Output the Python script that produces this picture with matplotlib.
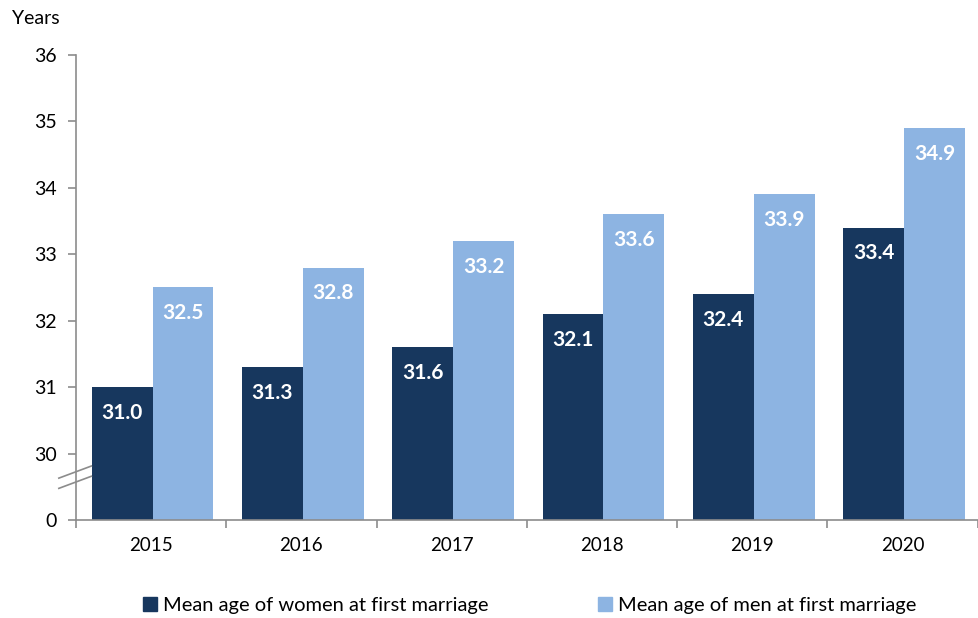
import numpy as np
import matplotlib.pyplot as plt
from matplotlib.patches import Patch

years = ['2015', '2016', '2017', '2018', '2019', '2020']
women = [31.0, 31.3, 31.6, 32.1, 32.4, 33.4]
men = [32.5, 32.8, 33.2, 33.6, 33.9, 34.9]
ytick_vals = [29, 30, 31, 32, 33, 34, 35, 36]
ytick_labels = ['0', '30', '31', '32', '33', '34', '35', '36']

dark = '#17375E'
light = '#8DB4E2'
grey = '#8C8C8C'

plt.rcParams['font.family'] = ['Lato', 'DejaVu Sans']

fig = plt.figure(figsize=(9.79, 6.18), dpi=100)
ax = fig.add_axes([0.0776, 0.1586, 0.921, 0.7524])

# axis is broken: everything below 30 is squeezed into one step labelled 0
base = 29
x = np.arange(len(years))
w = 0.405
b1 = ax.bar(x - w / 2 + 0.01, np.array(women) - base, w, bottom=base, color=dark)
b2 = ax.bar(x + w / 2 + 0.01, np.array(men) - base, w, bottom=base, color=light)

for bars, vals in ((b1, women), (b2, men)):
    for rect, v in zip(bars, vals):
        ax.annotate(f'{v:.1f}', (rect.get_x() + rect.get_width() / 2, v),
                    xytext=(0, -18.5), textcoords='offset points',
                    ha='center', va='center', color='white',
                    fontsize=15, fontweight='bold')

ax.set_xlim(-0.5, len(years) - 0.5)
ax.set_ylim(base, 36)
ax.set_yticks(ytick_vals)
ax.set_yticklabels(ytick_labels, fontsize=14)
ax.set_xticks(x)
ax.set_xticklabels(years, fontsize=13.5)
ax.set_xticks(np.arange(-0.5, len(years)), minor=True)
ax.tick_params(axis='x', which='major', length=0, pad=12)
ax.tick_params(axis='x', which='minor', length=6, color=grey, width=1.2)
ax.tick_params(axis='y', length=6, color=grey, width=1.2, pad=8)

for side in ('top', 'right'):
    ax.spines[side].set_visible(False)
for side in ('left', 'bottom'):
    ax.spines[side].set_color(grey)
    ax.spines[side].set_linewidth(1.2)

# break marks on the y axis
kw = dict(transform=ax.transAxes, color=grey, lw=1.2, clip_on=False)
for dy in (0.0, 0.022):
    ax.plot([-0.019, 0.017], [0.068 + dy, 0.094 + dy], **kw)

fig.text(0.012, 0.97, 'Years', fontsize=14, va='center', ha='left')

handles = [Patch(color=dark), Patch(color=light)]
fig.legend(handles, ['Mean age of women at first marriage',
                     'Mean age of men at first marriage'],
           loc='center', bbox_to_anchor=(0.541, 0.02), ncol=2, frameon=False,
           fontsize=14.5, handlelength=0.7, handleheight=0.7, handletextpad=0.3,
           columnspacing=5.4)

fig.savefig('out.png', dpi=100)
